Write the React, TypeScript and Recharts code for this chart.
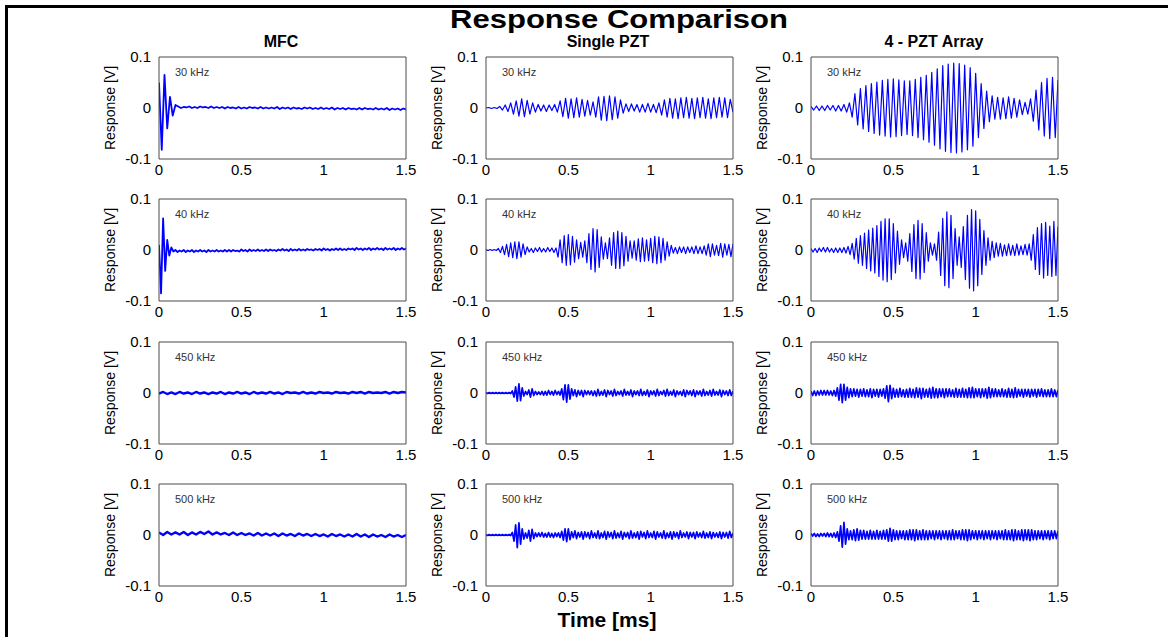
import React from 'react';
import { LineChart, Line, XAxis, YAxis } from 'recharts';

// ---------- axis / label data ----------
const T_END = 1.5; // ms
const X_TICKS = [0, 0.5, 1, 1.5];
const Y_TICKS = [-100, 0, 100]; // mV  (-0.1, 0, 0.1 V)
const INNER_X_TICKS = [0.5, 1];
const INNER_Y_TICKS = [0];

const TITLE = 'Response Comparison';
const X_LABEL = 'Time [ms]';
const Y_LABEL = 'Response [V]';
const COLUMN_TITLES = ['MFC', 'Single PZT', '4 - PZT Array'];
const FREQ_LABELS = ['30 kHz', '40 kHz', '450 kHz', '500 kHz'];

// ---------- series values (mV), sampled evenly over 0..1.5 ms ----------
const MFC_30 = [
  50, -82, 65, -40, 22, -15, 6,
  3, 0, 2, 1, 3, 0, 2, 0, 3, 1, 2, 0, 3, 0,
  2, 0, 2, -1, 2, 0, 1, -1, 2, -1, 1, -1, 2, 0, 1, -1, 2, -1, 1, -1,
  1, -1, 2, -2, 1, -1, 1, -2, 1, -1, 0, -2, 1, -1, 1, -2, 0, -2, 1, -2,
  0, -2, 1, -3, 0, -2, 0, -3, 0, -2, -1, -3, 0, -3, 0, -2, -1, -3, 0, -3,
  -1, -3, 0, -4, -1, -3, -1, -4, -1, -3,
];
const MFC_40 = [
  10, -85, 62, -41, 20, -11, 5, -3,
  0, -4, -1, -3, 0, -4, -1, -3, 0, -4, -1, -3, 0, -3, -1, -4, 0, -3, -1, -3,
  0, -3, -1, -3, 0, -3, 0, -3, 0, -2, -1, -3, 1, -2, 0, -3, 1, -2, 0, -2,
  1, -2, 0, -2, 1, -2, 1, -1, 0, -2, 1, -1, 2, -1, 1, -2, 2, -1, 1, -1,
  2, -1, 1, -1, 2, 0, 1, -1, 2, 0, 2, -1, 3, 0, 2, -1, 2, 0, 3, 0,
  3, 0, 2, 0, 3, 1, 3, 0, 4, 1, 3, 0, 3, 1, 4, 0, 3, 1, 4, 1,
  3, 0, 4, 1, 3, 1, 4, 0, 3, 1, 4, 1, 3,
];
const MFC_450 = [
  -1, 2, -2, 1, -2, 2, -1, 1, -2, 2,
  -1, 1, -2, 1, -1, 2, -2, 1, -1, 2,
  -1, 1, -2, 2, -1, 1, -1, 2, -1, 1,
  -2, 2, 0, 1, -1, 2, -1, 1, -1, 2,
  0, 1, -1, 2, 0, 1, -1, 2, 0, 2,
  -1, 2, 0, 1, 0, 2, -1, 2, 0, 2,
  1,
];
const MFC_500 = [
  5, 0, 6, 1, 5, 1, 6, 0, 5, 1,
  6, 2, 7, 1, 5, 1, 4, 0, 5, 0,
  4, 0, 3, -1, 4, -1, 3, -1, 3, -2,
  3, -1, 2, -2, 3, -1, 2, -2, 2, -2,
  1, -3, 2, -2, 1, -3, 1, -3, 2, -3,
  1, -4, 1, -3, 0, -4, 1, -3, 0, -4,
  0,
];

const PZT_30 = [
  0, 1, -1, 1, -1, 3, -4, 6, -7, 10,
  -12, 14, -16, 18, -17, 15, -12, 10, -8, 7,
  -6, 6, -7, 6, -5, 7, -8, 14, -17, 19,
  -20, 18, -19, 20, -18, 17, -16, 15, -14, 12,
  -18, 22, -24, 23, -25, 24, -23, 22, -20, 16,
  -10, 8, -7, 8, -6, 7, -8, 7, -8, 9,
  -8, 7, -9, 10, -14, 16, -18, 19, -20, 18,
  -21, 20, -19, 21, -20, 19, -21, 20, -19, 21,
  -20, 18, -21, 20, -19, 21, -18, 20, -19, 17,
  -8,
];
const PZT_40 = [
  1, -1, 1, -1, 1, -1, 3, -5, 7, -9,
  11, -13, 14, -15, 16, -17, 16, -14, 12, -9,
  6, -4, 3, -5, 4, -3, 5, -4, 3, -4,
  5, -3, 4, -5, 4, -14, 20, -25, 28, -30,
  30, -29, 27, -24, 20, -17, 15, -14, 18, -25,
  32, -38, 42, -43, 40, -34, 26, -18, 14, -17,
  24, -30, 34, -36, 37, -36, 34, -31, 27, -22,
  18, -16, 18, -20, 22, -23, 24, -22, 20, -21,
  23, -25, 27, -27, 26, -25, 23, -20, 16, -12,
  9, -6, 5, -7, 6, -5, 6, -7, 6, -5,
  6, -7, 8, -7, 6, -7, 8, -10, 12, -13,
  12, -10, 9, -11, 13, -14, 12, -10, 11, -13,
  12,
];
const PZT_450 = [
  1, -1, 1, -1, 1, -1, 1, -1, 1, -1,
  1, -1, 1, -1, 1, -1, 4, -8, 12, -16,
  18, -15, 10, -6, 3, -3, 6, -8, 8, -5,
  3, -3, 2, -3, 3, -4, 3, -4, 5, -3,
  3, -4, 5, -3, 3, -4, 8, -13, 16, -18,
  16, -12, 8, -5, 6, -7, 5, -4, 5, -7,
  5, -3, 4, -3, 4, -5, 4, -6, 7, -5,
  3, -4, 6, -7, 5, -3, 4, -6, 7, -5,
  3, -3, 4, -6, 7, -4, 3, -4, 6, -7,
  4, -3, 4, -5, 7, -5, 3, -4, 6, -7,
  4, -3, 4, -6, 7, -5, 3, -3, 5, -6,
  7, -5, 3, -4, 6, -7, 4, -3, 3, -5,
  6, -7, 5, -3, 4, -5, 6, -7, 4, -3,
  4, -6, 7, -5, 3, -4, 5, -6, 7, -4,
  3, -4, 6, -7, 5, -3, 4, -5, 6, -5,
  4,
];
const PZT_500 = [
  1, -1, 1, -1, 1, -1, 1, -1, 1, -1,
  1, -1, 1, -1, 1, -1, 5, -12, 20, -25,
  24, -18, 12, -8, 4, -6, 9, -12, 11, -7,
  4, -3, 4, -3, 5, -4, 3, -4, 5, -4,
  3, -5, 4, -3, 4, -5, 7, -10, 12, -13,
  12, -9, 6, -5, 8, -7, 5, -4, 6, -8,
  6, -4, 5, -7, 8, -5, 4, -6, 8, -7,
  4, -5, 7, -8, 6, -4, 5, -7, 8, -6,
  4, -5, 7, -8, 5, -4, 5, -7, 8, -6,
  4, -5, 6, -8, 7, -4, 5, -7, 8, -5,
  4, -5, 7, -8, 6, -4, 4, -6, 8, -7,
  4, -5, 6, -8, 6, -4, 5, -7, 8, -5,
  4, -4, 6, -7, 5, -4, 5, -7, 6, -4,
  4, -5, 7, -6, 4, -5, 6, -7, 5, -4,
  4, -5, 6, -7, 5, -4, 5, -6, 7, -5,
  4,
];

const ARR_30 = [
  3, -4, 4, -5, 4, -5, 5, -4, 5, -6,
  5, -6, 7, -8, 10, -18, 28, -33, 38, -41,
  44, -46, 48, -50, 51, -53, 54, -55, 56, -57,
  57, -56, 55, -54, 53, -52, 53, -54, 56, -58,
  60, -62, 64, -67, 70, -73, 77, -80, 83, -85,
  86, -87, 88, -88, 87, -86, 84, -82, 79, -75,
  68, -58, 48, -40, 33, -27, 24, -22, 21, -22,
  20, -21, 22, -20, 19, -18, 16, -13, 11, -12,
  18, -26, 35, -43, 50, -55, 58, -60, 60, -58,
  55,
];
const ARR_40 = [
  3, -4, 3, -5, 4, -3, 5, -4, 5, -4,
  3, -5, 4, -5, 4, -5, 5, -6, 7, -9,
  13, -18, 23, -26, 28, -30, 33, -36, 39, -41,
  43, -45, 48, -52, 56, -59, 61, -62, 61, -58,
  52, -45, 37, -28, 20, -15, 14, -22, 32, -42,
  50, -56, 58, -57, 52, -44, 34, -22, 14, -10,
  12, -20, 35, -50, 62, -70, 75, -74, 68, -56,
  42, -30, 26, -34, 46, -58, 68, -75, 79, -80,
  77, -70, 60, -48, 38, -30, 24, -20, 17, -15,
  14, -12, 13, -12, 10, -11, 12, -10, 9, -11,
  12, -10, 8, -9, 11, -10, 12, -20, 30, -38,
  44, -48, 52, -55, 54, -50, 47, -52, 56, -50,
  46,
];
const ARR_450 = [
  4, -5, 4, -5, 4, -4, 5, -4, 5, -4,
  5, -4, 4, -5, 5, -6, 10, -14, 17, -19,
  17, -14, 11, -9, 8, -7, 8, -6, 7, -8,
  7, -6, 8, -7, 6, -7, 8, -9, 7, -6,
  7, -8, 7, -6, 8, -10, 14, -17, 15, -11,
  9, -8, 7, -8, 9, -7, 6, -8, 7, -8,
  9, -8, 7, -9, 10, -8, 9, -11, 9, -8,
  7, -8, 9, -10, 11, -9, 8, -9, 8, -7,
  8, -9, 8, -7, 8, -7, 6, -8, 9, -8,
  7, -8, 9, -8, 7, -9, 10, -9, 11, -9,
  8, -7, 8, -9, 8, -7, 8, -10, 11, -9,
  8, -7, 8, -7, 6, -7, 8, -7, 6, -8,
  9, -8, 7, -9, 10, -8, 7, -6, 7, -8,
  7, -6, 7, -8, 7, -6, 7, -8, 7, -6,
  8, -7, 6, -7, 6, -7, 8, -7, 6, -7,
  6,
];
const ARR_500 = [
  3, -2, 3, -3, 2, -3, 3, -2, 3, -3,
  4, -3, 3, -4, 4, -5, 6, -12, 18, -24,
  25, -18, 12, -9, 8, -9, 10, -11, 12, -10,
  9, -8, 9, -8, 7, -8, 9, -8, 7, -8,
  9, -8, 7, -8, 9, -8, 10, -12, 13, -12,
  10, -9, 8, -9, 8, -7, 8, -9, 8, -9,
  10, -9, 10, -11, 10, -9, 8, -9, 10, -9,
  8, -9, 8, -7, 8, -9, 8, -7, 8, -9,
  8, -7, 8, -9, 8, -9, 10, -9, 8, -7,
  8, -9, 10, -9, 10, -11, 10, -9, 8, -7,
  8, -9, 8, -7, 8, -9, 8, -7, 8, -9,
  8, -7, 8, -9, 8, -7, 8, -9, 10, -9,
  8, -9, 10, -11, 10, -9, 8, -9, 10, -11,
  10, -9, 10, -11, 10, -9, 8, -9, 8, -7,
  8, -9, 8, -7, 8, -9, 8, -7, 8, -7,
  8,
];

const MFC_SERIES = [MFC_30, MFC_40, MFC_450, MFC_500];
const PZT_SERIES = [PZT_30, PZT_40, PZT_450, PZT_500];
const ARR_SERIES = [ARR_30, ARR_40, ARR_450, ARR_500];
const COLUMNS = [MFC_SERIES, PZT_SERIES, ARR_SERIES];

// ---------- layout / style ----------
const FONT = '"Liberation Sans", Arial, Helvetica, sans-serif';
const BLUE = '#0000ff';
const BOX = '#4a4a4a';
const COL_LEFT = [159, 486, 811];
const ROW_TOP = [57, 199, 342, 484];
const COL_TITLE_X = [281, 608, 934];
const STROKES = [
  [1.8, 1.8, 2.4, 2.4],
  [1.2, 1.2, 1.7, 1.7],
  [1.2, 1.2, 1.7, 1.7],
];
const PLOT_W = 247;
const PLOT_H = 102;
const YW = 62;
const MT = 12;
const MR = 16;
const XH = 28;

type PanelProps = { values: number[]; left: number; top: number; strokeWidth: number };

function Panel({ values, left, top, strokeWidth }: PanelProps) {
  const data = values.map((v, i) => ({ t: (i * T_END) / (values.length - 1), v }));
  const tickStyle = { fill: '#000', fontSize: 15, fontFamily: FONT };
  return (
    <div style={{ position: 'absolute', left: left - YW, top: top - MT }}>
      <LineChart
        width={YW + PLOT_W + MR}
        height={MT + PLOT_H + XH}
        data={data}
        margin={{ top: MT, right: MR, bottom: 0, left: 0 }}
      >
        <XAxis
          xAxisId="x"
          dataKey="t"
          type="number"
          domain={[0, T_END]}
          ticks={X_TICKS}
          interval={0}
          allowDataOverflow
          height={XH}
          tickSize={0}
          tickMargin={5}
          tickLine={false}
          axisLine={{ stroke: BOX }}
          tick={tickStyle}
          tickFormatter={(v: number) => String(v)}
        />
        <XAxis
          xAxisId="xb"
          type="number"
          domain={[0, T_END]}
          ticks={INNER_X_TICKS}
          interval={0}
          allowDataOverflow
          mirror
          tick={false}
          tickSize={3}
          axisLine={false}
          tickLine={{ stroke: BOX }}
        />
        <XAxis
          xAxisId="xt"
          orientation="top"
          type="number"
          domain={[0, T_END]}
          ticks={INNER_X_TICKS}
          interval={0}
          allowDataOverflow
          mirror
          tick={false}
          tickSize={3}
          axisLine={{ stroke: BOX }}
          tickLine={{ stroke: BOX }}
        />
        <YAxis
          yAxisId="y"
          type="number"
          domain={[-100, 100]}
          ticks={Y_TICKS}
          interval={0}
          allowDataOverflow
          width={YW}
          tickSize={0}
          tickMargin={8}
          tickLine={false}
          axisLine={{ stroke: BOX }}
          tick={tickStyle}
          tickFormatter={(v: number) => String(v / 1000)}
        />
        <YAxis
          yAxisId="yl"
          type="number"
          domain={[-100, 100]}
          ticks={INNER_Y_TICKS}
          interval={0}
          allowDataOverflow
          mirror
          tick={false}
          tickSize={3}
          axisLine={false}
          tickLine={{ stroke: BOX }}
        />
        <YAxis
          yAxisId="yr"
          orientation="right"
          type="number"
          domain={[-100, 100]}
          ticks={INNER_Y_TICKS}
          interval={0}
          allowDataOverflow
          mirror
          tick={false}
          tickSize={3}
          axisLine={{ stroke: BOX }}
          tickLine={{ stroke: BOX }}
        />
        <Line
          xAxisId="x"
          yAxisId="y"
          type="linear"
          dataKey="v"
          stroke={BLUE}
          strokeWidth={strokeWidth}
          strokeLinejoin="round"
          dot={false}
          activeDot={false}
          isAnimationActive={false}
        />
      </LineChart>
    </div>
  );
}

export default function App() {
  return (
    <div
      style={{
        position: 'absolute',
        left: 0,
        top: 0,
        width: 1168,
        height: 637,
        background: '#fff',
        overflow: 'hidden',
        fontFamily: FONT,
      }}
    >
      {/* frame lines */}
      <div style={{ position: 'absolute', left: 5, top: 5, width: 3, height: 632, background: '#000' }} />
      <div style={{ position: 'absolute', left: 5, top: 5, width: 1163, height: 3, background: '#000' }} />

      <svg width={1168} height={637} style={{ position: 'absolute', left: 0, top: 0 }}>
        <text
          x={619}
          y={28}
          textAnchor="middle"
          fontSize={25}
          fontWeight="bold"
          fontFamily={FONT}
          textLength={338}
          lengthAdjust="spacingAndGlyphs"
          fill="#000"
        >
          {TITLE}
        </text>
        {COLUMN_TITLES.map((t, c) => (
          <text key={t} x={COL_TITLE_X[c]} y={47} textAnchor="middle" fontSize={16} fontWeight="bold" fontFamily={FONT} fill="#000">
            {t}
          </text>
        ))}
        <text x={607} y={627} textAnchor="middle" fontSize={21} fontWeight="bold" fontFamily={FONT} fill="#000">
          {X_LABEL}
        </text>
        {COL_LEFT.map((cl, c) =>
          ROW_TOP.map((rt, r) => (
            <g key={`${c}-${r}`}>
              <text x={cl + 16} y={rt + 19} fontSize={11} fontFamily={FONT} fill="#333">
                {FREQ_LABELS[r]}
              </text>
              <text
                transform={`translate(${cl - 49},${rt + PLOT_H / 2}) rotate(-90)`}
                textAnchor="middle"
                dominantBaseline="central"
                fontSize={14}
                fontFamily={FONT}
                fill="#000"
              >
                {Y_LABEL}
              </text>
            </g>
          ))
        )}
      </svg>

      {COLUMNS.map((series, c) =>
        series.map((vals, r) => (
          <Panel
            key={`p-${c}-${r}`}
            values={vals}
            left={COL_LEFT[c]}
            top={ROW_TOP[r]}
            strokeWidth={STROKES[c][r]}
          />
        ))
      )}
    </div>
  );
}
